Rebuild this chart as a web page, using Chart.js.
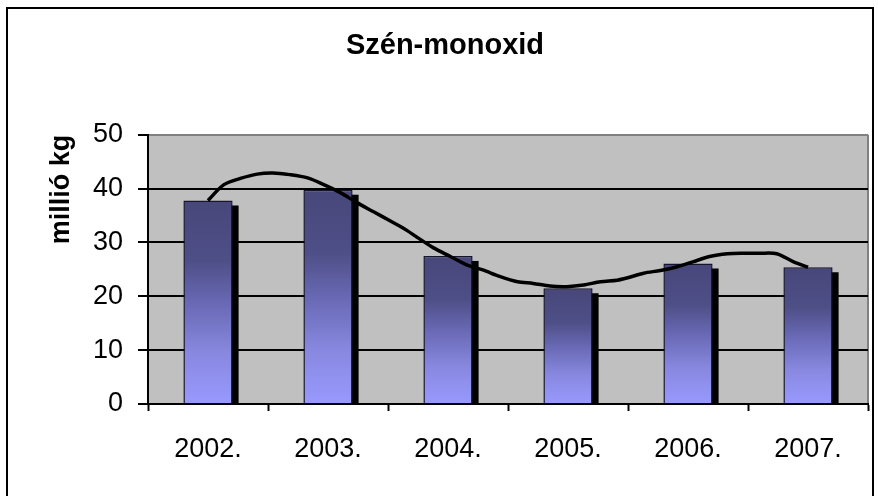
<!DOCTYPE html>
<html>
<head>
<meta charset="utf-8">
<script src="https://cdn.jsdelivr.net/npm/chart.js@4"></script>
<style>
  html, body { margin: 0; padding: 0; background: #fff; }
  #wrap { position: relative; width: 878px; height: 496px; overflow: hidden; }
  #frame {
    position: absolute; left: 6px; top: 7px; width: 868px; height: 520px;
    border: 2px solid #000; box-sizing: border-box; pointer-events: none;
  }
</style>
</head>
<body>
<div id="wrap">
  <canvas id="coChart" width="878" height="496"></canvas>
  <div id="frame"></div>
</div>
<script>
const years = ['2002.', '2003.', '2004.', '2005.', '2006.', '2007.'];
const coValues = [37.8, 39.8, 27.5, 21.5, 26.1, 25.4];

// trend curve, x given as category index
const trendX = [0, 0.13, 0.27, 0.41, 0.54, 0.68, 0.83, 0.96, 1.1, 1.24, 1.38, 1.52, 1.6, 1.66, 1.74, 1.88,
  2.02, 2.16, 2.29, 2.43, 2.58, 2.71, 2.85, 2.99, 3.13, 3.27, 3.41, 3.49, 3.63, 3.77, 3.91,
  4.04, 4.18, 4.33, 4.46, 4.6, 4.74, 4.88, 5];
const trendY = [37.8, 40.7, 41.9, 42.7, 42.9, 42.6, 42.0, 40.8, 39.3, 37.4, 35.7, 34.0, 33.0, 32.2, 31.0, 29.0,
  27.4, 25.8, 24.9, 23.7, 22.7, 22.4, 21.9, 21.8, 22.1, 22.7, 23.0, 23.4, 24.3, 24.8, 25.5,
  26.4, 27.4, 27.9, 28.0, 28.0, 27.9, 26.4, 25.4];

const yMax = 50;
const yStep = 10;

const FONT = "'Liberation Sans', Arial, sans-serif";

// gray plot background + right edge
const plotArea = {
  id: 'plotArea',
  beforeDraw(chart) {
    const { ctx, chartArea: a } = chart;
    ctx.save();
    ctx.fillStyle = '#c0c0c0';
    ctx.fillRect(a.left, a.top, a.right - a.left, a.bottom - a.top);
    ctx.strokeStyle = '#808080';
    ctx.lineWidth = 2;
    ctx.beginPath();
    ctx.moveTo(a.right, a.top);
    ctx.lineTo(a.right, a.bottom);
    ctx.stroke();
    ctx.restore();
  }
};

// black drop shadow behind each bar
const barShadow = {
  id: 'barShadow',
  beforeDatasetsDraw(chart) {
    const { ctx, chartArea: a } = chart;
    const meta = chart.getDatasetMeta(1);
    ctx.save();
    ctx.beginPath();
    ctx.rect(a.left, a.top, a.right - a.left, a.bottom - a.top);
    ctx.clip();
    ctx.fillStyle = '#000';
    meta.data.forEach(bar => {
      const { x, y, base, width } = bar.getProps(['x', 'y', 'base', 'width'], true);
      ctx.fillRect(x - width / 2 + 6, y + 5, width, base - y - 5);
    });
    ctx.restore();
  }
};

function barGradient(c) {
  const chart = c.chart;
  if (!chart.chartArea || !c.parsed) return '#6a6ab8';
  const yScale = chart.scales.y;
  const top = yScale.getPixelForValue(c.parsed.y);
  const bottom = yScale.getPixelForValue(0);
  const g = chart.ctx.createLinearGradient(0, top, 0, bottom);
  g.addColorStop(0, '#47477a');
  g.addColorStop(0.3, '#4f4f88');
  g.addColorStop(0.5, '#6868b4');
  g.addColorStop(0.75, '#8888e0');
  g.addColorStop(1, '#9999ff');
  return g;
}

new Chart(document.getElementById('coChart'), {
  type: 'bar',
  data: {
    labels: years,
    datasets: [{
      type: 'line',
      data: trendX.map((x, i) => ({ x: x, y: trendY[i] })),
      xAxisID: 'xt',
      borderColor: '#000',
      borderWidth: 3.5,
      pointRadius: 0,
      tension: 0.3,
      fill: false,
      order: 0
    }, {
      data: coValues,
      backgroundColor: barGradient,
      borderColor: '#15152e',
      borderWidth: 1.5,
      grouped: false,
      barPercentage: 0.41,
      categoryPercentage: 1,
      order: 1
    }]
  },
  options: {
    responsive: false,
    animation: false,
    layout: { padding: { left: 22, right: 10, top: 0, bottom: 0 } },
    plugins: {
      legend: { display: false },
      tooltip: { enabled: false },
      title: {
        display: true,
        text: 'Szén-monoxid',
        color: '#000',
        font: { family: FONT, size: 29, weight: 'bold' },
        padding: { top: 29, bottom: 71 }
      }
    },
    scales: {
      x: {
        afterFit(scale) { scale.height = 92; },
        grid: {
          offset: true,
          drawOnChartArea: false,
          tickLength: 7,
          tickWidth: 2,
          tickColor: '#000'
        },
        border: { color: '#000', width: 2 },
        ticks: {
          color: '#000',
          padding: 22,
          font: { family: FONT, size: 27 }
        }
      },
      xt: {
        type: 'linear',
        display: false,
        offset: false,
        min: -0.5,
        max: years.length - 0.5
      },
      y: {
        min: 0,
        max: yMax,
        afterFit(scale) { scale.width = 126; },
        grid: {
          color: c => (c.tick && c.tick.value === yMax ? '#808080' : '#000'),
          lineWidth: 2,
          tickLength: 10,
          tickWidth: 2,
          tickColor: '#000'
        },
        border: { color: '#000', width: 2 },
        ticks: {
          stepSize: yStep,
          color: '#000',
          padding: 15,
          font: { family: FONT, size: 27 }
        },
        title: {
          display: true,
          text: 'millió kg',
          align: 'end',
          color: '#000',
          font: { family: FONT, size: 27, weight: 'bold' },
          padding: { top: 23, bottom: 0 }
        }
      }
    }
  },
  plugins: [plotArea, barShadow]
});
</script>
</body>
</html>
